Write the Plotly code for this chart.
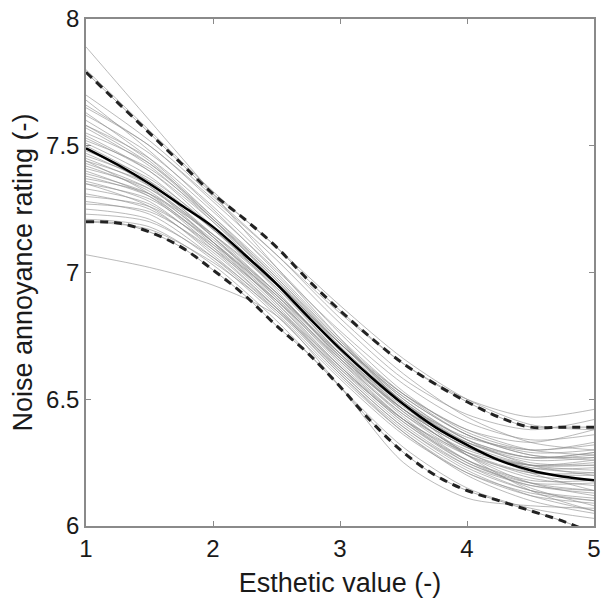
import plotly.graph_objects as go

# x grid for all curves
x_vals = [1.0, 1.5, 2.0, 2.5, 3.0, 3.5, 4.0, 4.5, 5.0]

# bootstrap (grey) curves
grey_curves = [
    [7.89, 7.60, 7.31, 7.02, 6.74, 6.48, 6.28, 6.14, 6.06],
    [7.80, 7.56, 7.32, 7.10, 6.87, 6.66, 6.50, 6.40, 6.38],
    [7.70, 7.52, 7.30, 7.07, 6.82, 6.60, 6.43, 6.33, 6.30],
    [7.68, 7.48, 7.25, 7.00, 6.74, 6.52, 6.36, 6.28, 6.27],
    [7.65, 7.50, 7.28, 7.05, 6.80, 6.58, 6.44, 6.38, 6.42],
    [7.63, 7.45, 7.22, 6.98, 6.72, 6.50, 6.34, 6.24, 6.20],
    [7.62, 7.47, 7.26, 7.02, 6.76, 6.53, 6.37, 6.30, 6.33],
    [7.60, 7.44, 7.21, 6.96, 6.69, 6.46, 6.28, 6.17, 6.12],
    [7.58, 7.45, 7.24, 7.01, 6.77, 6.56, 6.41, 6.34, 6.36],
    [7.57, 7.42, 7.20, 6.95, 6.68, 6.45, 6.29, 6.20, 6.18],
    [7.55, 7.43, 7.22, 6.99, 6.73, 6.50, 6.34, 6.27, 6.29],
    [7.54, 7.40, 7.18, 6.93, 6.66, 6.43, 6.26, 6.15, 6.08],
    [7.52, 7.41, 7.21, 6.98, 6.73, 6.52, 6.38, 6.33, 6.38],
    [7.51, 7.38, 7.17, 6.94, 6.68, 6.46, 6.31, 6.23, 6.23],
    [7.50, 7.36, 7.14, 6.90, 6.64, 6.42, 6.26, 6.17, 6.14],
    [7.48, 7.37, 7.18, 6.96, 6.72, 6.51, 6.36, 6.29, 6.30],
    [7.47, 7.35, 7.15, 6.92, 6.67, 6.45, 6.29, 6.21, 6.20],
    [7.46, 7.36, 7.17, 6.95, 6.70, 6.48, 6.33, 6.26, 6.27],
    [7.45, 7.34, 7.14, 6.91, 6.65, 6.42, 6.25, 6.16, 6.13],
    [7.44, 7.35, 7.17, 6.96, 6.72, 6.51, 6.36, 6.28, 6.26],
    [7.43, 7.33, 7.14, 6.92, 6.67, 6.46, 6.31, 6.24, 6.24],
    [7.42, 7.32, 7.12, 6.89, 6.63, 6.41, 6.25, 6.17, 6.17],
    [7.41, 7.33, 7.15, 6.94, 6.70, 6.49, 6.34, 6.27, 6.28],
    [7.40, 7.30, 7.10, 6.87, 6.61, 6.39, 6.23, 6.14, 6.11],
    [7.39, 7.31, 7.13, 6.92, 6.68, 6.47, 6.32, 6.24, 6.22],
    [7.38, 7.30, 7.12, 6.90, 6.66, 6.44, 6.28, 6.19, 6.16],
    [7.37, 7.31, 7.15, 6.95, 6.72, 6.52, 6.38, 6.30, 6.28],
    [7.36, 7.28, 7.09, 6.86, 6.60, 6.37, 6.20, 6.10, 6.05],
    [7.35, 7.29, 7.12, 6.91, 6.67, 6.46, 6.31, 6.23, 6.21],
    [7.33, 7.27, 7.10, 6.89, 6.65, 6.44, 6.30, 6.24, 6.25],
    [7.31, 7.25, 7.08, 6.86, 6.61, 6.39, 6.24, 6.16, 6.14],
    [7.30, 7.26, 7.11, 6.91, 6.68, 6.48, 6.35, 6.30, 6.32],
    [7.28, 7.23, 7.06, 6.84, 6.59, 6.37, 6.21, 6.12, 6.09],
    [7.27, 7.24, 7.09, 6.89, 6.66, 6.46, 6.33, 6.27, 6.29],
    [7.25, 7.21, 7.05, 6.83, 6.58, 6.36, 6.21, 6.13, 6.10],
    [7.23, 7.20, 7.06, 6.86, 6.63, 6.42, 6.28, 6.21, 6.21],
    [7.21, 7.18, 7.03, 6.81, 6.55, 6.31, 6.15, 6.07, 6.03],
    [7.20, 7.17, 7.04, 6.85, 6.62, 6.42, 6.29, 6.24, 6.26],
    [7.07, 7.02, 6.95, 6.83, 6.55, 6.25, 6.11, 6.08, 6.07],
    [7.66, 7.50, 7.29, 7.07, 6.84, 6.64, 6.50, 6.43, 6.46],
    [7.53, 7.40, 7.20, 6.97, 6.72, 6.49, 6.32, 6.21, 6.14],
    [7.49, 7.34, 7.12, 6.88, 6.62, 6.40, 6.24, 6.14, 6.10],
    [7.44, 7.31, 7.11, 6.88, 6.63, 6.41, 6.26, 6.18, 6.18],
    [7.35, 7.26, 7.07, 6.85, 6.60, 6.38, 6.22, 6.12, 6.06],
    [7.58, 7.43, 7.21, 6.97, 6.71, 6.49, 6.33, 6.25, 6.24],
]

# mean curve and confidence bounds
x_fine = [1.0, 1.25, 1.5, 1.75, 2.0, 2.25, 2.5, 2.75, 3.0, 3.25, 3.5, 3.75, 4.0, 4.25, 4.5, 4.75, 5.0]
mean_curve = [7.49, 7.425, 7.35, 7.265, 7.18, 7.07, 6.955, 6.825, 6.70, 6.585, 6.48, 6.39, 6.32, 6.26, 6.22, 6.195, 6.18]
upper_curve = [7.79, 7.67, 7.55, 7.43, 7.31, 7.21, 7.10, 6.97, 6.85, 6.74, 6.64, 6.56, 6.49, 6.43, 6.39, 6.39, 6.39]
lower_curve = [7.20, 7.195, 7.16, 7.10, 7.01, 6.91, 6.79, 6.68, 6.55, 6.41, 6.29, 6.20, 6.14, 6.10, 6.06, 6.02, 5.97]

x_ticks = [1, 2, 3, 4, 5]
y_ticks = [6, 6.5, 7, 7.5, 8]
y_tick_text = ["6", "6.5", "7", "7.5", "8"]

fig = go.Figure()
for c in grey_curves:
    fig.add_trace(go.Scatter(x=x_vals, y=c, mode="lines",
                             line=dict(color="rgba(140,140,140,0.6)", width=1, shape="spline", smoothing=0.8),
                             showlegend=False, hoverinfo="skip"))

fig.add_trace(go.Scatter(x=x_fine, y=mean_curve, mode="lines",
                         line=dict(color="black", width=2.5, shape="spline"), showlegend=False))
for b in (upper_curve, lower_curve):
    fig.add_trace(go.Scatter(x=x_fine, y=b, mode="lines",
                             line=dict(color="#aaaaaa", width=1, shape="spline"), showlegend=False))
    fig.add_trace(go.Scatter(x=x_fine, y=b, mode="lines",
                             line=dict(color="#222222", width=3, dash="8px,6px", shape="spline"), showlegend=False))

font_family = "Liberation Sans, Arial"
axis_common = dict(showline=True, mirror="ticks", linecolor="#8a8a8a", linewidth=1.5,
                   ticks="inside", ticklen=5, tickcolor="#8a8a8a", tickwidth=1,
                   showgrid=False, zeroline=False, automargin=False,
                   tickfont=dict(family=font_family, size=24, color="#1a1a1a"),
                   title_font=dict(family=font_family, size=27, color="#1a1a1a"))

fig.update_layout(
    width=601, height=598,
    margin=dict(l=86, r=7, t=19, b=72),
    plot_bgcolor="white", paper_bgcolor="white",
    xaxis=dict(range=[1, 5], tickvals=x_ticks, title=dict(text="Esthetic value (-)", standoff=15), **axis_common),
    yaxis=dict(range=[6, 8], tickvals=y_ticks, ticktext=y_tick_text,
               title=dict(text="Noise annoyance rating (-)", standoff=6), **axis_common),
)

fig.write_html("out.html", config={"displayModeBar": False},
               post_script="document.body.style.margin='0';document.body.style.overflow='hidden';")
